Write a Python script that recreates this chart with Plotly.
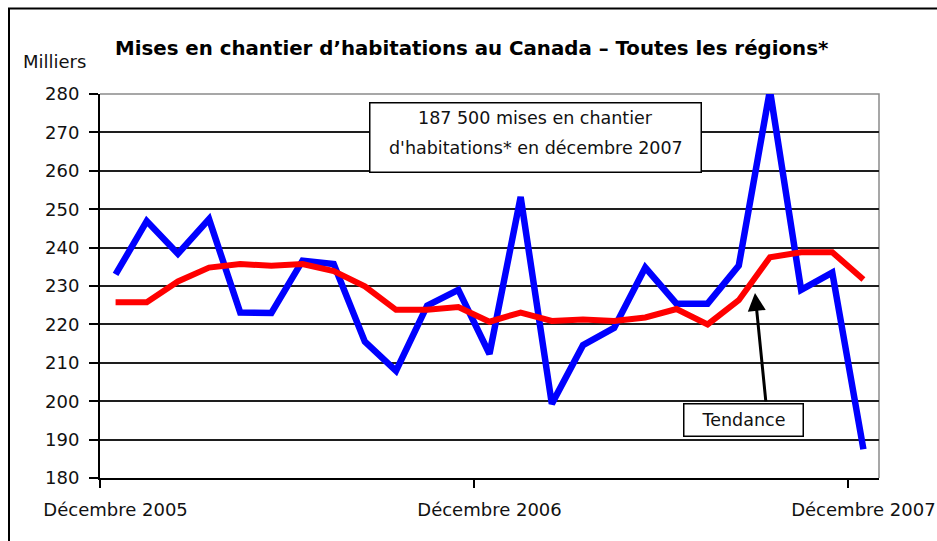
import plotly.graph_objects as go

months = ["2005-12", "2006-01", "2006-02", "2006-03", "2006-04", "2006-05", "2006-06",
          "2006-07", "2006-08", "2006-09", "2006-10", "2006-11", "2006-12", "2007-01",
          "2007-02", "2007-03", "2007-04", "2007-05", "2007-06", "2007-07", "2007-08",
          "2007-09", "2007-10", "2007-11", "2007-12"]
mises = [233.0, 246.9, 238.4, 247.4, 223.1, 223.0, 236.6, 235.7, 215.5, 207.9, 224.9, 229.0,
         212.3, 253.2, 199.3, 214.6, 219.1, 234.8, 225.4, 225.4, 235.3, 281.0, 229.0, 233.5, 187.5]
tendance = [225.8, 225.8, 231.2, 234.8, 235.7, 235.3, 235.7, 233.9, 229.9, 223.8, 223.8, 224.5,
            220.7, 223.1, 220.9, 221.3, 220.9, 221.8, 224.0, 220.0, 226.3, 237.5, 238.8, 238.8, 231.7]
label_idx = [0, 12, 24]
label_text = ["Décembre 2005", "Décembre 2006", "Décembre 2007"]
y_ticks = list(range(180, 290, 10))

x = list(range(len(months)))
FONT = "DejaVu Sans"

fig = go.Figure()
fig.add_trace(go.Scatter(x=x, y=mises, mode="lines", line=dict(color="#0000ff", width=6.5),
                         hoverinfo="skip", showlegend=False))
fig.add_trace(go.Scatter(x=x, y=tendance, mode="lines", line=dict(color="#ff0000", width=6),
                         hoverinfo="skip", showlegend=False))

fig.update_layout(
    width=937, height=541,
    margin=dict(l=100, r=58, t=94, b=63),
    paper_bgcolor="white", plot_bgcolor="white",
    font=dict(family=FONT, size=18, color="#111"),
    xaxis=dict(
        range=[-0.5, len(months) - 0.5],
        tickvals=label_idx, ticktext=label_text,
        ticks="", showgrid=False, zeroline=False,
        showline=True, linecolor="#000", linewidth=2,
        ticklabelstandoff=14, automargin=False,
        tickfont=dict(family=FONT, size=18, color="#111"),
        minor=dict(tickvals=[-0.5, 11.5, 23.5], ticks="outside", ticklen=8,
                   tickwidth=2, tickcolor="#000", showgrid=False),
    ),
    yaxis=dict(
        range=[180, 280], tickvals=y_ticks,
        ticks="outside", ticklen=9, tickwidth=2, tickcolor="#000",
        showgrid=True, gridcolor="#1e1e1e", gridwidth=1.5,
        zeroline=False, showline=True, linecolor="#000", linewidth=2,
        ticklabelstandoff=6, automargin=False,
        tickfont=dict(family=FONT, size=18, color="#111"),
    ),
    shapes=[
        dict(type="path", xref="paper", yref="paper", path="M 0 1 L 1 1 L 1 0",
             line=dict(color="#8a8a8a", width=1.5), layer="between"),
        dict(type="rect", xref="paper", yref="paper",
             x0=-(100 - 9) / 779, x1=(960 - 100) / 779,
             y0=-(560 - 478) / 383.4, y1=1 + (94.3 - 9) / 383.4,
             line=dict(color="#000", width=2)),
    ],
    annotations=[
        dict(text="<b>Mises en chantier d\u2019habitations au Canada \u2013 Toutes les régions*</b>",
             xref="paper", yref="paper", x=(471.5 - 100) / 779, y=1 + (94.3 - 49) / 383.4,
             xanchor="center", yanchor="middle", showarrow=False,
             font=dict(family=FONT, size=19.8, color="#000")),
        dict(text="Milliers", xref="paper", yref="paper",
             x=(21 - 100) / 779, y=1 + (94.3 - 62) / 383.4,
             xanchor="left", yanchor="middle", showarrow=False,
             font=dict(family=FONT, size=18, color="#111")),
        dict(text=" ", xref="paper", yref="paper",
             x=(535.5 - 100) / 779, y=(477.7 - 137.7) / 383.4,
             xanchor="center", yanchor="middle", showarrow=False,
             width=330, height=68, borderpad=0, bgcolor="white",
             bordercolor="#000", borderwidth=1.5),
        dict(text="187 500 mises en chantier", xref="paper", yref="paper",
             x=(535.5 - 100) / 779, y=(477.7 - 118) / 383.4,
             xanchor="center", yanchor="middle", showarrow=False,
             font=dict(family=FONT, size=17.5, color="#111")),
        dict(text="d'habitations* en décembre 2007", xref="paper", yref="paper",
             x=(535.5 - 100) / 779, y=(477.7 - 148.5) / 383.4,
             xanchor="center", yanchor="middle", showarrow=False,
             font=dict(family=FONT, size=17.5, color="#111")),
        dict(text="Tendance", xref="paper", yref="paper",
             x=(743 - 100) / 779, y=(477.7 - 420) / 383.4,
             xanchor="center", yanchor="middle", showarrow=False,
             width=118, height=31, borderpad=0, bgcolor="white",
             bordercolor="#000", borderwidth=1.5,
             font=dict(family=FONT, size=17.5, color="#111")),
        dict(text="", xref="x", yref="y", x=20.52, y=228.2,
             ax=11, ay=110, showarrow=True, arrowhead=2, arrowsize=1.2,
             arrowwidth=3, arrowcolor="#000"),
    ],
)

fig.write_html("out.html", config={"displayModeBar": False},
               post_script="document.body.style.margin='0';document.body.style.overflow='hidden';")
